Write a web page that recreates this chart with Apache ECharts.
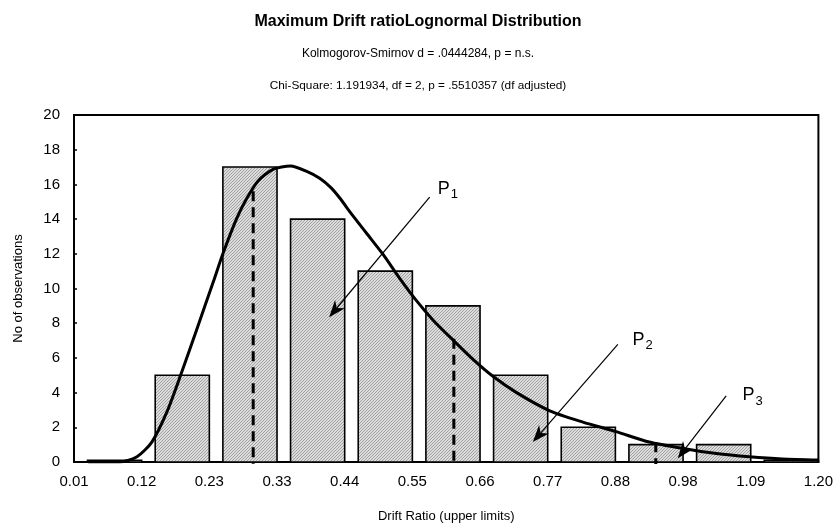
<!DOCTYPE html>
<html><head><meta charset="utf-8">
<script src="https://cdn.jsdelivr.net/npm/echarts@6/dist/echarts.min.js"></script>
<style>html,body{margin:0;padding:0;background:#fff}#c{width:836px;height:528px}</style>
</head><body><div id="c"></div>
<script>
// Bin edges (upper limits) shown as x tick labels
const tickLabels = ['0.01','0.12','0.23','0.33','0.44','0.55','0.66','0.77','0.88','0.98','1.09','1.20'];
// Observed counts per bin (bin index 0..10)
const binCounts = [0.1, 5, 17, 14, 11, 9, 5, 2, 1, 1, 0.1];
// Fitted lognormal curve, x in bin units, y in counts
const curveX = [0.21, 0.68, 0.93, 1.15, 1.37, 1.57, 1.81, 2.06, 2.20, 2.40, 2.55, 2.72, 2.94, 3.20, 3.44, 3.63, 3.80, 3.93, 4.10, 4.32, 4.57, 4.81, 5.06, 5.31, 5.60, 5.90, 6.19, 6.54, 7.03, 7.52, 8.01, 8.50, 9.00, 9.49, 9.98, 10.47, 11.0];
const curveY = [0.0, 0.0, 0.3, 1.15, 2.86, 4.94, 7.6, 10.4, 12.0, 14.0, 15.17, 16.2, 16.87, 17.06, 16.75, 16.35, 15.8, 15.2, 14.3, 13.2, 11.95, 10.6, 9.3, 8.16, 7.03, 5.9, 4.94, 4.0, 2.95, 2.3, 1.75, 1.15, 0.78, 0.49, 0.3, 0.17, 0.11];
// Percentile markers (dashed verticals)
const pctX = [2.648, 5.613, 8.597];
const pctY = [15.6, 7.1, 1.14];
// Arrow annotations P1..P3
const arrowLabels = ['1', '2', '3'];
const arrowFromX = [5.256, 8.036, 9.637];
const arrowFromY = [15.27, 6.78, 3.81];
const arrowToX = [3.77, 6.78, 8.922];
const arrowToY = [8.35, 1.15, 0.21];
const labelX = [5.374, 8.254, 9.878];
const labelY = [15.74, 7.05, 3.86];

const FONT = 'Liberation Sans, Arial, sans-serif';

// hatch pattern
const pc = document.createElement('canvas');
pc.width = 3; pc.height = 3;
const px = pc.getContext('2d');
px.fillStyle = '#dcdcdc'; px.fillRect(0,0,3,3);
px.fillStyle = '#a2a2a2';
for (let i=0;i<3;i++){ px.fillRect(i, 2-i, 1, 1); }
const hatch = {image: pc, repeat: 'repeat'};

const chart = echarts.init(document.getElementById('c'), null, {renderer:'canvas'});
const option = {
  animation: false,
  backgroundColor: '#fff',
  title: [
    {text: '{b|Maximum Drift ratio}{n|Lognormal Distribution}', left: 'center', top: 9,
     textStyle: {rich: {b:{fontFamily: FONT, fontWeight:'bold', fontSize:16, color:'#000'}, n:{fontFamily: FONT, fontSize:16, color:'#000'}}}},
    {text: 'Kolmogorov-Smirnov d = .0444284, p = n.s.', left: 'center', top: 43,
     textStyle: {fontFamily: FONT, fontWeight:'normal', fontSize:12, color:'#000'}},
    {text: 'Chi-Square: 1.191934, df = 2, p = .5510357 (df adjusted)', left: 'center', top: 75,
     textStyle: {fontFamily: FONT, fontWeight:'normal', fontSize:11.8, color:'#000'}}
  ],
  grid: {left: 74, right: 17, top: 115, bottom: 61, show: true, borderColor: '#000', borderWidth: 2, backgroundColor: 'transparent'},
  xAxis: {
    type: 'value', min: 0, max: 11, interval: 1,
    name: 'Drift Ratio (upper limits)', nameLocation: 'middle', nameGap: 48,
    nameTextStyle: {fontFamily: FONT, fontSize: 13, color: '#000'},
    axisLine: {lineStyle: {color: '#000', width: 2}},
    axisTick: {show: false},
    splitLine: {show: false},
    axisLabel: {formatter: v => tickLabels[v], fontFamily: FONT, fontSize: 15, color: '#000', margin: 12}
  },
  yAxis: {
    type: 'value', min: 0, max: 20, interval: 2,
    name: 'No of observations', nameLocation: 'middle', nameGap: 49,
    nameTextStyle: {fontFamily: FONT, fontSize: 13, color: '#000'},
    axisLine: {lineStyle: {color: '#000', width: 2}},
    axisTick: {show: true, inside: true, length: 3, lineStyle: {color:'#000', width: 1.5}},
    splitLine: {show: false},
    axisLabel: {fontFamily: FONT, fontSize: 15, color: '#000', margin: 14}
  },
  series: [
    {
      type: 'custom', name: 'bars', z: 2,
      data: binCounts.map((v, i) => [i, v]),
      encode: {x: 0, y: 1},
      renderItem: (params, api) => {
        const i = api.value(0), v = api.value(1);
        const p0 = api.coord([i + 0.2, v]);
        const p1 = api.coord([i + 1, 0]);
        return {type: 'rect', shape: {x: p0[0], y: p0[1], width: p1[0]-p0[0], height: p1[1]-p0[1]},
          style: {fill: hatch, stroke: '#000', lineWidth: 1.6}};
      }
    },
    {
      type: 'custom', name: 'pct', z: 3,
      data: pctX.map((x, i) => [x, pctY[i]]),
      encode: {x: 0, y: 1},
      renderItem: (params, api) => {
        const a = api.coord([api.value(0), 0]);
        const b = api.coord([api.value(0), api.value(1)]);
        return {type: 'line', shape: {x1: b[0], y1: b[1], x2: a[0], y2: a[1] + 2},
          style: {stroke: '#000', lineWidth: 3, lineDash: [10, 6]}};
      }
    },
    {
      type: 'line', name: 'curve', z: 4, smooth: 0.25, symbol: 'none',
      data: curveX.map((x, i) => [x, curveY[i]]),
      lineStyle: {color: '#000', width: 3}
    },
    {
      type: 'custom', name: 'arrows', z: 5,
      data: arrowFromX.map((x, i) => [x, arrowFromY[i], arrowToX[i], arrowToY[i], labelX[i], labelY[i], i]),
      encode: {x: [0, 2], y: [1, 3]},
      renderItem: (params, api) => {
        const s = api.coord([api.value(0), api.value(1)]);
        const e = api.coord([api.value(2), api.value(3)]);
        const l = api.coord([api.value(4), api.value(5)]);
        const idx = api.value(6);
        const dx = e[0]-s[0], dy = e[1]-s[1];
        const len = Math.sqrt(dx*dx+dy*dy);
        const ux = dx/len, uy = dy/len;
        const hl = 17, hw = 6.5;
        const bx = e[0]-ux*hl, by = e[1]-uy*hl;
        const mx = e[0]-ux*hl*0.7, my = e[1]-uy*hl*0.7;
        return {type: 'group', children: [
          {type: 'line', shape: {x1: s[0], y1: s[1], x2: mx, y2: my}, style: {stroke: '#000', lineWidth: 1.2}},
          {type: 'polygon', shape: {points: [[e[0], e[1]], [bx - uy*hw, by + ux*hw], [mx, my], [bx + uy*hw, by - ux*hw]]}, style: {fill: '#000'}},
          {type: 'text', style: {text: 'P', x: l[0], y: l[1], fontFamily: FONT, fontSize: 18, fill: '#000', verticalAlign: 'middle', align: 'left'}},
          {type: 'text', style: {text: arrowLabels[idx], x: l[0] + 13, y: l[1] + 6, fontFamily: FONT, fontSize: 13, fill: '#000', verticalAlign: 'middle', align: 'left'}}
        ]};
      }
    }
  ]
};
chart.setOption(option);
</script></body></html>
